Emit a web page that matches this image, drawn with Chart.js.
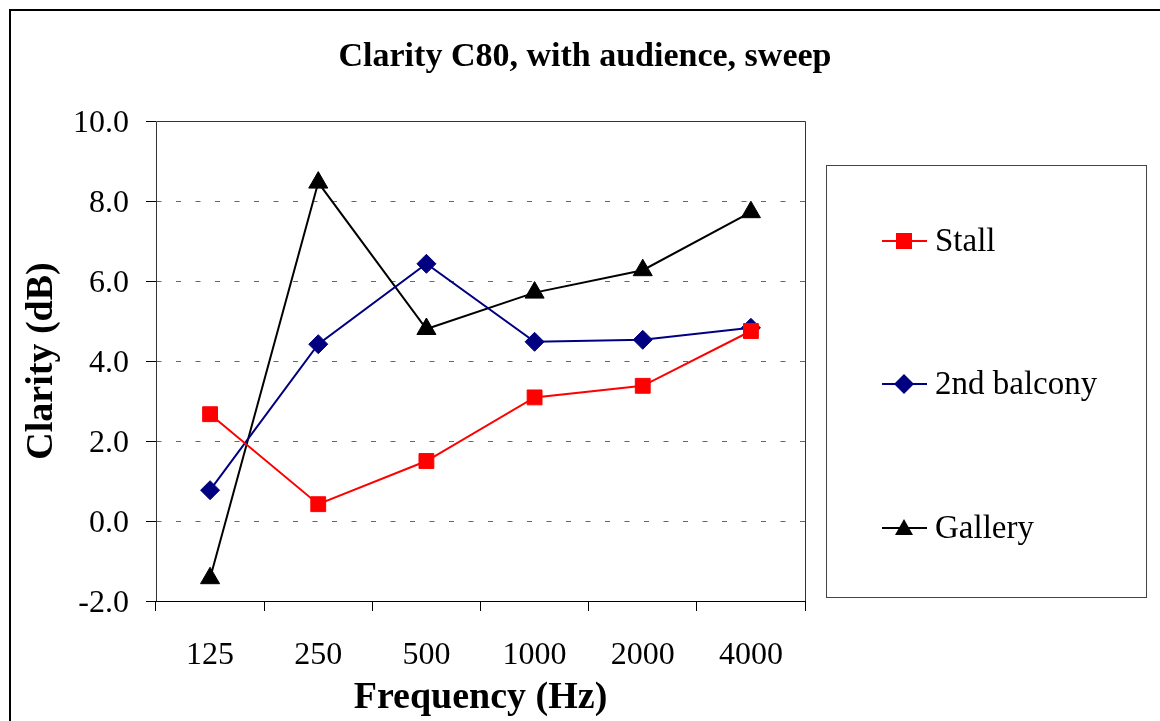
<!DOCTYPE html>
<html>
<head>
<meta charset="utf-8">
<script src="https://cdn.jsdelivr.net/npm/chart.js@4/dist/chart.umd.min.js"></script>
<style>
  html, body { margin: 0; padding: 0; background: #fff; }
  canvas { display: block; }
</style>
</head>
<body>
<canvas id="c80" width="1160" height="721"></canvas>
<script>
const frequencies = ["125", "250", "500", "1000", "2000", "4000"];
const stall = [2.67, 0.42, 1.5, 3.09, 3.38, 4.75];
const balcony = [0.77, 4.42, 6.43, 4.48, 4.53, 4.83];
const gallery = [-1.43, 8.46, 4.8, 5.71, 6.27, 7.72];
const yMin = -2;
const yMax = 10;
const yStep = 2;

const serif = "'Liberation Serif', 'Times New Roman', serif";

// marker for the legend, same shapes as chart points
function drawMarker(ctx, style, x, y, color) {
  ctx.fillStyle = color;
  ctx.beginPath();
  if (style === "rect") {
    ctx.rect(x - 8, y - 8, 16, 16);
  } else if (style === "rectRot") {
    ctx.moveTo(x, y - 10);
    ctx.lineTo(x + 10, y);
    ctx.lineTo(x, y + 10);
    ctx.lineTo(x - 10, y);
    ctx.closePath();
  } else {
    ctx.moveTo(x, y - 9);
    ctx.lineTo(x + 9, y + 7);
    ctx.lineTo(x - 9, y + 7);
    ctx.closePath();
  }
  ctx.fill();
}

const decorations = {
  id: "decorations",
  afterDraw(chart) {
    const { ctx, chartArea: a } = chart;
    ctx.save();
    ctx.setLineDash([]);
    // outer chart frame (runs off the right and bottom edges)
    ctx.strokeStyle = "#000";
    ctx.lineWidth = 2;
    ctx.strokeRect(10, 10, chart.width + 20, chart.height + 20);

    // plot area border: left, top and right
    ctx.lineWidth = 1;
    ctx.strokeStyle = "#111";
    ctx.beginPath();
    ctx.moveTo(a.left + 0.5, a.bottom);
    ctx.lineTo(a.left + 0.5, a.top + 0.5);
    ctx.lineTo(a.right + 0.5, a.top + 0.5);
    ctx.strokeStyle = "#333";
    ctx.lineTo(a.right + 0.5, a.bottom);
    ctx.stroke();

    // legend box
    ctx.strokeStyle = "#444";
    ctx.strokeRect(826.5, 165.5, 320, 432);
    const rows = [241, 384, 528];
    ctx.font = "33px " + serif;
    ctx.textBaseline = "middle";
    ctx.textAlign = "left";
    chart.data.datasets.forEach((ds, i) => {
      const y = rows[i];
      ctx.strokeStyle = ds.borderColor;
      ctx.lineWidth = 2;
      ctx.beginPath();
      ctx.moveTo(882, y);
      ctx.lineTo(927, y);
      ctx.stroke();
      drawMarker(ctx, ds.pointStyle, 904, y, ds.borderColor);
      ctx.fillStyle = "#000";
      ctx.fillText(ds.label, 935, y + 1);
    });
    ctx.restore();
  },
};

new Chart(document.getElementById("c80"), {
  type: "line",
  data: {
    labels: frequencies,
    datasets: [
      {
        label: "Stall",
        data: stall,
        borderColor: "#ff0000",
        backgroundColor: "#ff0000",
        borderWidth: 2,
        pointStyle: "rect",
        pointRadius: 10.5,
        pointBorderWidth: 1,
      },
      {
        label: "2nd balcony",
        data: balcony,
        borderColor: "#000080",
        backgroundColor: "#000080",
        borderWidth: 2,
        pointStyle: "rectRot",
        pointRadius: 9.5,
        pointBorderWidth: 1,
      },
      {
        label: "Gallery",
        data: gallery,
        borderColor: "#000000",
        backgroundColor: "#000000",
        borderWidth: 2,
        pointStyle: "triangle",
        pointRadius: 11,
        pointBorderWidth: 1,
      },
    ],
  },
  options: {
    responsive: false,
    animation: false,
    layout: { padding: { left: 10, right: 0, top: 0, bottom: 0 } },
    plugins: {
      legend: { display: false },
      tooltip: { enabled: false },
      title: {
        display: true,
        text: "Clarity C80, with audience, sweep",
        color: "#000",
        font: { family: serif, size: 34, weight: "bold", lineHeight: 1.2 },
        padding: { top: 37, bottom: 43.2 },
      },
    },
    scales: {
      x: {
        type: "category",
        offset: true,
        grid: {
          offset: true,
          drawOnChartArea: false,
          tickLength: 10,
          color: "#000",
        },
        border: { display: true, color: "#000", width: 1 },
        ticks: {
          color: "#000",
          font: { family: serif, size: 32 },
          padding: 25,
          maxRotation: 0,
        },
        title: {
          display: true,
          text: "Frequency (Hz)",
          color: "#000",
          font: { family: serif, size: 38, weight: "bold", lineHeight: 1.2 },
          padding: { top: 0, bottom: 0 },
        },
        afterFit: (s) => { s.height = 120; },
      },
      y: {
        min: yMin,
        max: yMax,
        grid: {
          color: (c) =>
            c.tick && (c.tick.value === yMin || c.tick.value === yMax) ? "rgba(0,0,0,0)" : "#666",
          tickBorderDash: [],
          tickColor: "#000",
          tickLength: 10,
        },
        border: { display: false, dash: [5, 14.5], dashOffset: 19 },
        ticks: {
          stepSize: yStep,
          color: "#000",
          font: { family: serif, size: 32 },
          padding: 17,
          labelOffset: 3,
          callback: (v) => Number(v).toFixed(1),
        },
        title: {
          display: true,
          text: "Clarity (dB)",
          color: "#000",
          font: { family: serif, size: 38, weight: "bold", lineHeight: 1.2 },
          padding: { top: 9, bottom: 0 },
        },
        afterFit: (s) => { s.width = 146; },
      },
      legendSpace: {
        position: "right",
        display: true,
        grid: { display: false },
        border: { display: false },
        ticks: { display: false },
        afterFit: (s) => { s.width = 355; },
      },
    },
  },
  plugins: [decorations],
});
</script>
</body>
</html>
